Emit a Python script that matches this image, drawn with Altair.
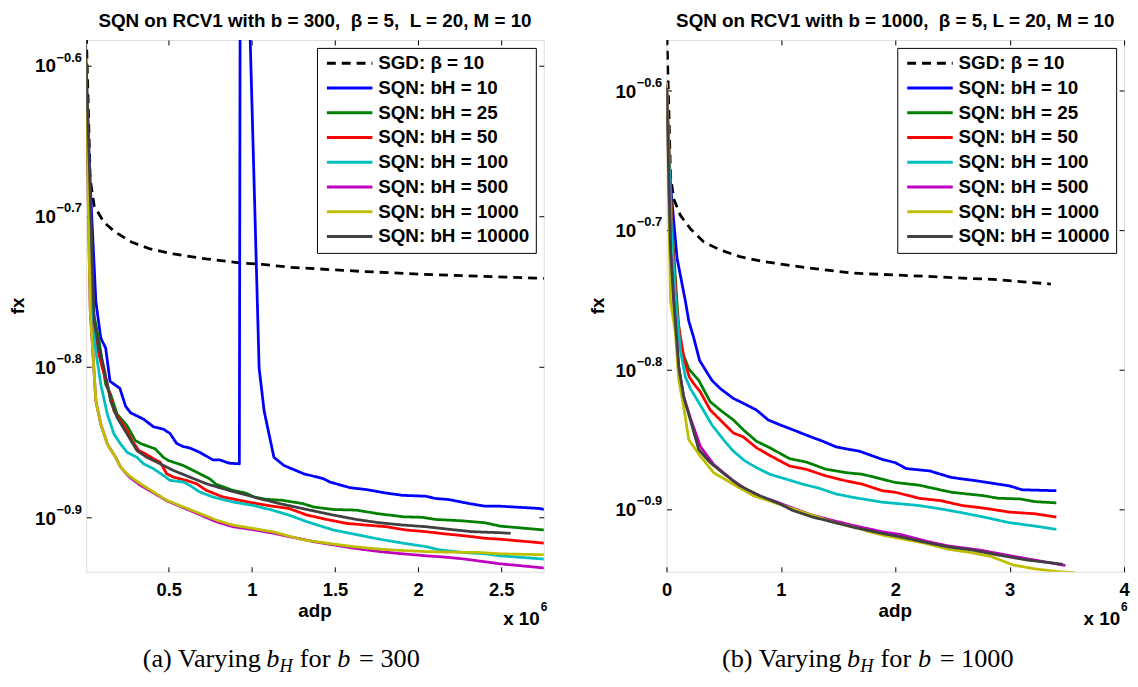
import altair as alt
import pandas as pd

FONT = "Liberation Sans"
SERIF = "Liberation Serif"

# ---------------------------------------------------------------- legend / series
SERIES = ["SGD: β = 10", "SQN: bH = 10", "SQN: bH = 25", "SQN: bH = 50",
          "SQN: bH = 100", "SQN: bH = 500", "SQN: bH = 1000", "SQN: bH = 10000"]
COLORS = ["#000000", "#0000FF", "#008000", "#FF0000",
          "#00BFBF", "#BF00BF", "#BFBF00", "#404040"]
DASHES = [[9, 6], [1, 0], [1, 0], [1, 0], [1, 0], [1, 0], [1, 0], [1, 0]]

# y is log10(fx); ticks shown as 10^-0.6 ... 10^-0.9
Y_TICKS = [-0.6, -0.7, -0.8, -0.9]
Y_TICK_EXP = ["\u22120.6", "\u22120.7", "\u22120.8", "\u22120.9"]

NB = "\u00a0"
# ---------------------------------------------------------------- panel (a): b = 300
A_TITLE = "SQN on RCV1 with b = 300," + NB + " \u03b2 = 5," + NB + " L = 20, M = 10"
A_X_DOMAIN = [0.004, 2.756]          # adp in units of 10^6
A_Y_DOMAIN = [-0.9358, -0.5831]      # log10(fx)
A_X_TICKS = [0.5, 1, 1.5, 2, 2.5]
A_CAPTION = ["(a) Varying", "b", "H", "for", "b", "= 300"]

a_sgd_x = [0.0, 0.028, 0.052, 0.111, 0.181, 0.280, 0.389, 0.528, 0.726, 0.925, 1.064, 1.226, 1.661, 2.096, 2.705, 2.760]
a_sgd_y = [-0.56, -0.6757, -0.6932, -0.7041, -0.7107, -0.7173, -0.7217, -0.7250, -0.7283, -0.7309, -0.7320, -0.7338, -0.7366, -0.7388, -0.7410, -0.7412]

a_b10_x = [0.0, 0.0226, 0.062, 0.0917, 0.121, 0.147, 0.2065, 0.2405, 0.270, 0.349, 0.409, 0.468, 0.508, 0.548, 0.588, 0.627, 0.687, 0.766, 0.806, 0.865, 0.925, 0.933, 1.044, 1.074, 1.133, 1.193, 1.312, 1.431, 1.470, 1.589, 1.689, 1.808, 1.907, 2.046, 2.105, 2.185, 2.304, 2.403, 2.492, 2.727, 2.760]
a_b10_y = [-0.595, -0.6667, -0.7567, -0.7809, -0.7875, -0.8094, -0.8142, -0.8259, -0.8303, -0.8346, -0.8397, -0.8412, -0.8441, -0.8507, -0.8528, -0.8537, -0.8566, -0.8616, -0.8616, -0.8638, -0.8642, -0.350, -0.8007, -0.8291, -0.8599, -0.8653, -0.8708, -0.8741, -0.8763, -0.8800, -0.8813, -0.8836, -0.8851, -0.8857, -0.8872, -0.8879, -0.8905, -0.8923, -0.8923, -0.8938, -0.8945]

a_b25_x = [0.0, 0.034, 0.082, 0.121, 0.151, 0.190, 0.250, 0.300, 0.339, 0.419, 0.468, 0.498, 0.588, 0.667, 0.746, 0.786, 0.885, 0.964, 1.014, 1.083, 1.182, 1.302, 1.371, 1.490, 1.629, 1.748, 1.907, 2.026, 2.105, 2.264, 2.403, 2.492, 2.760]
a_b25_y = [-0.595, -0.7568, -0.783, -0.8116, -0.8182, -0.8313, -0.8390, -0.8489, -0.8511, -0.8543, -0.8599, -0.8620, -0.8653, -0.8697, -0.8741, -0.8778, -0.8818, -0.8836, -0.8862, -0.8877, -0.8884, -0.8905, -0.8928, -0.8945, -0.8949, -0.8971, -0.8993, -0.8997, -0.9011, -0.9020, -0.9033, -0.9055, -0.9081]

a_b50_x = [0.0, 0.034, 0.0714, 0.101, 0.131, 0.171, 0.211, 0.250, 0.280, 0.320, 0.360, 0.409, 0.449, 0.488, 0.528, 0.607, 0.667, 0.726, 0.826, 0.905, 1.004, 1.123, 1.223, 1.332, 1.450, 1.569, 1.688, 1.808, 1.927, 2.046, 2.165, 2.284, 2.403, 2.492, 2.760]
a_b50_y = [-0.595, -0.757, -0.7875, -0.8007, -0.8116, -0.8291, -0.8357, -0.8423, -0.8489, -0.8554, -0.8576, -0.8609, -0.8632, -0.8708, -0.8730, -0.8752, -0.8774, -0.8818, -0.8862, -0.8879, -0.8901, -0.8923, -0.8938, -0.8982, -0.9011, -0.9037, -0.9048, -0.9059, -0.9081, -0.9092, -0.9107, -0.9120, -0.9136, -0.9142, -0.9168]

a_b100_x = [0.0, 0.0417, 0.062, 0.0917, 0.131, 0.171, 0.211, 0.250, 0.3095, 0.349, 0.409, 0.468, 0.508, 0.588, 0.627, 0.687, 0.766, 0.885, 1.004, 1.123, 1.223, 1.332, 1.490, 1.610, 1.768, 1.907, 2.046, 2.125, 2.264, 2.403, 2.492, 2.760]
a_b100_y = [-0.595, -0.770, -0.7897, -0.8116, -0.8313, -0.8445, -0.8511, -0.8566, -0.8599, -0.8642, -0.8675, -0.8719, -0.8752, -0.8763, -0.8785, -0.8829, -0.8862, -0.8895, -0.8917, -0.8949, -0.8982, -0.9026, -0.9081, -0.9107, -0.9142, -0.9168, -0.9191, -0.9212, -0.9230, -0.9239, -0.9252, -0.9274]

a_b500_x = [0.0, 0.028, 0.062, 0.0917, 0.131, 0.181, 0.211, 0.260, 0.330, 0.409, 0.488, 0.588, 0.687, 0.786, 0.885, 1.004, 1.123, 1.371, 1.610, 1.768, 1.907, 2.046, 2.165, 2.284, 2.403, 2.492, 2.760]
a_b500_y = [-0.595, -0.762, -0.8226, -0.8379, -0.8511, -0.8599, -0.8664, -0.8726, -0.8785, -0.8834, -0.8887, -0.8933, -0.8979, -0.9026, -0.9059, -0.9078, -0.9101, -0.9158, -0.9201, -0.9224, -0.9239, -0.9252, -0.9261, -0.9274, -0.9292, -0.9305, -0.9333]

a_b1000_x = [0.0, 0.028, 0.062, 0.0917, 0.131, 0.181, 0.211, 0.260, 0.330, 0.409, 0.488, 0.588, 0.687, 0.786, 0.885, 1.004, 1.123, 1.312, 1.450, 1.610, 1.768, 1.907, 2.046, 2.205, 2.363, 2.492, 2.760]
a_b1000_y = [-0.595, -0.762, -0.8226, -0.8379, -0.8511, -0.8599, -0.8664, -0.8719, -0.8774, -0.8829, -0.8884, -0.8928, -0.8971, -0.9015, -0.9048, -0.9070, -0.9092, -0.9147, -0.9168, -0.9191, -0.9208, -0.9217, -0.9224, -0.9228, -0.9230, -0.9239, -0.9245]

a_b10000_x = [0.0, 0.052, 0.0815, 0.111, 0.151, 0.190, 0.250, 0.3095, 0.369, 0.449, 0.528, 0.627, 0.726, 0.826, 0.925, 1.044, 1.163, 1.302, 1.490, 1.629, 1.768, 1.907, 2.046, 2.185, 2.324, 2.492, 2.557]
a_b10000_y = [-0.585, -0.770, -0.7875, -0.8007, -0.8226, -0.8336, -0.8445, -0.8555, -0.8599, -0.8642, -0.8686, -0.8730, -0.8774, -0.8807, -0.8836, -0.8872, -0.8905, -0.8938, -0.8982, -0.9011, -0.9033, -0.9048, -0.9059, -0.9076, -0.9092, -0.9099, -0.9103]

# ---------------------------------------------------------------- panel (b): b = 1000
B_TITLE = "SQN on RCV1 with b = 1000," + NB + " \u03b2 = 5, L = 20, M = 10"
B_X_DOMAIN = [0.0, 4.0]
B_Y_DOMAIN = [-0.9449, -0.5636]
B_X_TICKS = [0, 1, 2, 3, 4]
B_CAPTION = ["(b) Varying", "b", "H", "for", "b", "= 1000"]

b_sgd_x = [0.0, 0.035, 0.063, 0.1215, 0.208, 0.324, 0.469, 0.642, 0.845, 1.047, 1.250, 1.637, 2.270, 2.902, 3.360]
b_sgd_y = [-0.55, -0.6610, -0.6776, -0.6894, -0.6989, -0.7083, -0.7142, -0.7189, -0.7225, -0.7248, -0.7272, -0.7308, -0.7331, -0.7355, -0.7386]

b_b10_x = [0.0, 0.020, 0.092, 0.165, 0.194, 0.237, 0.289, 0.396, 0.469, 0.584, 0.671, 0.786, 0.888, 0.990, 1.105, 1.250, 1.365, 1.481, 1.597, 1.684, 1.886, 2.001, 2.095, 2.301, 2.491, 2.712, 2.997, 3.108, 3.408]
b_b10_y = [-0.595, -0.654, -0.7201, -0.7509, -0.7650, -0.7769, -0.7934, -0.8076, -0.8135, -0.8206, -0.8241, -0.8289, -0.8360, -0.8395, -0.8431, -0.8478, -0.8513, -0.8553, -0.8572, -0.8584, -0.8643, -0.8667, -0.8709, -0.8726, -0.8773, -0.8797, -0.8833, -0.8861, -0.8868]

b_b25_x = [0.0, 0.050, 0.092, 0.1215, 0.194, 0.281, 0.382, 0.469, 0.584, 0.671, 0.786, 0.903, 1.076, 1.220, 1.394, 1.568, 1.713, 1.886, 2.001, 2.207, 2.491, 2.775, 2.902, 3.092, 3.218, 3.408]
b_b25_y = [-0.597, -0.700, -0.7532, -0.7840, -0.7993, -0.8076, -0.8230, -0.8289, -0.8360, -0.8431, -0.8513, -0.8560, -0.8638, -0.8662, -0.8714, -0.8738, -0.8750, -0.8785, -0.8809, -0.8828, -0.8879, -0.8904, -0.8922, -0.8927, -0.8946, -0.8955]

b_b50_x = [0.0, 0.050, 0.098, 0.156, 0.199, 0.237, 0.295, 0.382, 0.469, 0.584, 0.671, 0.786, 0.903, 1.076, 1.220, 1.394, 1.568, 1.713, 1.886, 2.001, 2.207, 2.396, 2.586, 2.775, 2.997, 3.218, 3.408]
b_b50_y = [-0.597, -0.705, -0.765, -0.7934, -0.8052, -0.8099, -0.8159, -0.8289, -0.8360, -0.8454, -0.8482, -0.8560, -0.8615, -0.8691, -0.8714, -0.8762, -0.8797, -0.8821, -0.8868, -0.8879, -0.8922, -0.8939, -0.8974, -0.8993, -0.9021, -0.9033, -0.9057]

b_b100_x = [0.0, 0.045, 0.081, 0.1215, 0.165, 0.208, 0.295, 0.396, 0.497, 0.584, 0.686, 0.786, 0.903, 1.047, 1.192, 1.337, 1.481, 1.626, 1.886, 2.207, 2.396, 2.586, 2.775, 2.997, 3.218, 3.408]
b_b100_y = [-0.597, -0.705, -0.751, -0.7863, -0.8052, -0.8135, -0.8253, -0.8395, -0.8501, -0.8584, -0.8655, -0.8702, -0.8750, -0.8785, -0.8821, -0.8851, -0.8891, -0.8915, -0.8950, -0.8974, -0.8998, -0.9026, -0.9057, -0.9097, -0.9121, -0.9145]

b_b500_x = [0.0, 0.035, 0.063, 0.107, 0.150, 0.208, 0.295, 0.411, 0.584, 0.758, 0.932, 1.105, 1.279, 1.453, 1.626, 1.891, 2.049, 2.270, 2.459, 2.744, 2.997, 3.218, 3.487]
b_b500_y = [-0.596, -0.715, -0.7508, -0.7982, -0.8194, -0.8346, -0.8549, -0.8679, -0.8797, -0.8892, -0.8939, -0.8993, -0.9045, -0.9081, -0.9116, -0.9163, -0.9182, -0.9230, -0.9263, -0.9294, -0.9333, -0.9365, -0.9404]

b_b1000_x = [0.0, 0.035, 0.078, 0.107, 0.150, 0.194, 0.295, 0.411, 0.584, 0.758, 0.932, 1.105, 1.279, 1.453, 1.626, 1.891, 2.080, 2.270, 2.459, 2.649, 2.839, 3.029, 3.218, 3.408, 3.566]
b_b1000_y = [-0.594, -0.7508, -0.7745, -0.8076, -0.8265, -0.8501, -0.8620, -0.8738, -0.8821, -0.8904, -0.8950, -0.8998, -0.9045, -0.9092, -0.9128, -0.9187, -0.9216, -0.9246, -0.9287, -0.9310, -0.9340, -0.9400, -0.9428, -0.9447, -0.9455]

b_b10000_x = [0.0, 0.035, 0.063, 0.107, 0.150, 0.208, 0.281, 0.382, 0.526, 0.642, 0.816, 0.990, 1.105, 1.279, 1.453, 1.626, 1.891, 2.049, 2.270, 2.459, 2.681, 2.902, 3.155, 3.464]
b_b10000_y = [-0.598, -0.715, -0.7508, -0.7982, -0.8194, -0.8360, -0.8572, -0.8667, -0.8762, -0.8833, -0.8904, -0.8962, -0.9010, -0.9057, -0.9092, -0.9128, -0.9175, -0.9199, -0.9239, -0.9270, -0.9294, -0.9329, -0.9365, -0.9395]

A_CURVES = [(a_sgd_x, a_sgd_y), (a_b10_x, a_b10_y), (a_b25_x, a_b25_y), (a_b50_x, a_b50_y),
            (a_b100_x, a_b100_y), (a_b500_x, a_b500_y), (a_b1000_x, a_b1000_y), (a_b10000_x, a_b10000_y)]
B_CURVES = [(b_sgd_x, b_sgd_y), (b_b10_x, b_b10_y), (b_b25_x, b_b25_y), (b_b50_x, b_b50_y),
            (b_b100_x, b_b100_y), (b_b500_x, b_b500_y), (b_b1000_x, b_b1000_y), (b_b10000_x, b_b10000_y)]

# ---------------------------------------------------------------- helpers
W, H = 462, 537
LBL = 19        # label font size (bold sans)
CAP = 26.5      # caption font size (serif)


def text(t, x, y, size, font=FONT, weight="bold", align="left",
         baseline="alphabetic", style="normal", angle=0):
    return alt.Chart(pd.DataFrame({"t": [t]})).mark_text(
        font=font, fontSize=size, fontWeight=weight, fontStyle=style,
        align=align, baseline=baseline, angle=angle, color="black"
    ).encode(x=alt.value(x), y=alt.value(y), text="t:N")


def panel(curves, xdom, ydom, xticks, title, caption, cap_x0, cap_steps):
    xs = alt.Scale(domain=xdom, nice=False, zero=False)
    ys = alt.Scale(domain=ydom, nice=False, zero=False)
    legend = alt.Legend(
        title=None, orient="top-right", offset=8, padding=6,
        strokeColor="black", fillColor="white",
        symbolType="M-4,0H4", symbolSize=132, symbolStrokeWidth=3,
        symbolOffset=17.5, labelOffset=19.3, rowPadding=5,
        labelFont=FONT, labelFontSize=LBL, labelFontWeight="bold",
        labelColor="black", labelLimit=0,
    )
    color = alt.Color("series:N", scale=alt.Scale(domain=SERIES, range=COLORS), legend=legend)
    dash = alt.StrokeDash("series:N", scale=alt.Scale(domain=SERIES, range=DASHES), legend=legend)

    tick_common = dict(tickSize=5, tickColor="black", tickWidth=1, domain=False,
                       grid=False, title=None, offset=-5)
    layers = []
    for i, (name, (xv, yv)) in enumerate(zip(SERIES, curves)):
        df = pd.DataFrame({"adp": xv, "lfx": yv, "series": name})
        if i == 0:
            xaxis = alt.Axis(orient="bottom", values=xticks, format="~g", labelFont=FONT,
                             labelFontSize=18.5, labelFontWeight="bold", labelColor="black",
                             labelPadding=9, labelFlush=False, labelOverlap=False, **tick_common)
            yaxis = alt.Axis(orient="left", values=Y_TICKS, labels=False, **tick_common)
        elif i == 1:
            xaxis = alt.Axis(orient="top", values=xticks, labels=False, **tick_common)
            yaxis = alt.Axis(orient="right", values=Y_TICKS, labels=False, **tick_common)
        else:
            xaxis = None
            yaxis = None
        layers.append(
            alt.Chart(df).mark_line(clip=True, strokeWidth=2.8, strokeJoin="round").encode(
                x=alt.X("adp:Q", scale=xs, axis=xaxis),
                y=alt.Y("lfx:Q", scale=ys, axis=yaxis),
                color=color, strokeDash=dash,
            )
        )

    # y tick labels 10^exp
    tdf = pd.DataFrame({"v": Y_TICKS, "e": Y_TICK_EXP, "b": ["10"] * len(Y_TICKS)})
    layers.append(alt.Chart(tdf).mark_text(font=FONT, fontSize=LBL, fontWeight="bold", align="right",
                                          baseline="middle", dy=1, color="black").encode(
        y=alt.Y("v:Q", scale=ys, axis=None), x=alt.value(-30.5), text="b:N"))
    layers.append(alt.Chart(tdf).mark_text(font=FONT, fontSize=13, fontWeight="bold", align="left",
                                          baseline="middle", dy=-8, color="black").encode(
        y=alt.Y("v:Q", scale=ys, axis=None), x=alt.value(-30), text="e:N"))

    # titles
    layers.append(text(title, W / 2, -13, LBL, align="center"))
    layers.append(text("fx", -69, H / 2, LBL, align="center", baseline="middle", angle=270))
    layers.append(text("adp", W / 2, H + 46, LBL, align="center"))
    layers.append(text("x 10", W - 4, H + 54, LBL, align="right"))
    layers.append(text("6", W - 3, H + 40, 12))

    # caption: "(x) Varying b_H for b = N"
    cy = H + 96
    x = cap_x0
    layers.append(text(caption[0], x, cy, CAP, font=SERIF, weight="normal"))
    x += cap_steps[0]
    layers.append(text(caption[1], x, cy, CAP, font=SERIF, weight="normal", style="italic"))
    x += cap_steps[1]
    layers.append(text(caption[2], x, cy + 5.5, 18.5, font=SERIF, weight="normal", style="italic"))
    x += cap_steps[2]
    layers.append(text(caption[3], x, cy, CAP, font=SERIF, weight="normal"))
    x += cap_steps[3]
    layers.append(text(caption[4], x, cy, CAP, font=SERIF, weight="normal", style="italic"))
    x += cap_steps[4]
    layers.append(text(caption[5], x, cy, CAP, font=SERIF, weight="normal"))

    return alt.layer(*layers).resolve_axis(x="independent", y="independent").properties(width=W, height=H)


CAP_STEPS_A = [124.8, 13.3, 20.6, 37.9, 21.9]
CAP_STEPS_B = [126.2, 13.3, 20.6, 37.9, 21.9]

left = panel(A_CURVES, A_X_DOMAIN, A_Y_DOMAIN, A_X_TICKS, A_TITLE, A_CAPTION, 57, CAP_STEPS_A)
right = panel(B_CURVES, B_X_DOMAIN, B_Y_DOMAIN, B_X_TICKS, B_TITLE, B_CAPTION, 56, CAP_STEPS_B)

chart = alt.hconcat(left, right, spacing=124, bounds="flush").resolve_scale(
    x="independent", y="independent", color="independent", strokeDash="independent"
).resolve_legend(color="independent", strokeDash="independent").properties(
    padding=0, background="white"
).configure_view(stroke="black", strokeWidth=1.3).configure(font=FONT)

chart.save("out.html", embed_options={"renderer": "svg", "actions": False})
